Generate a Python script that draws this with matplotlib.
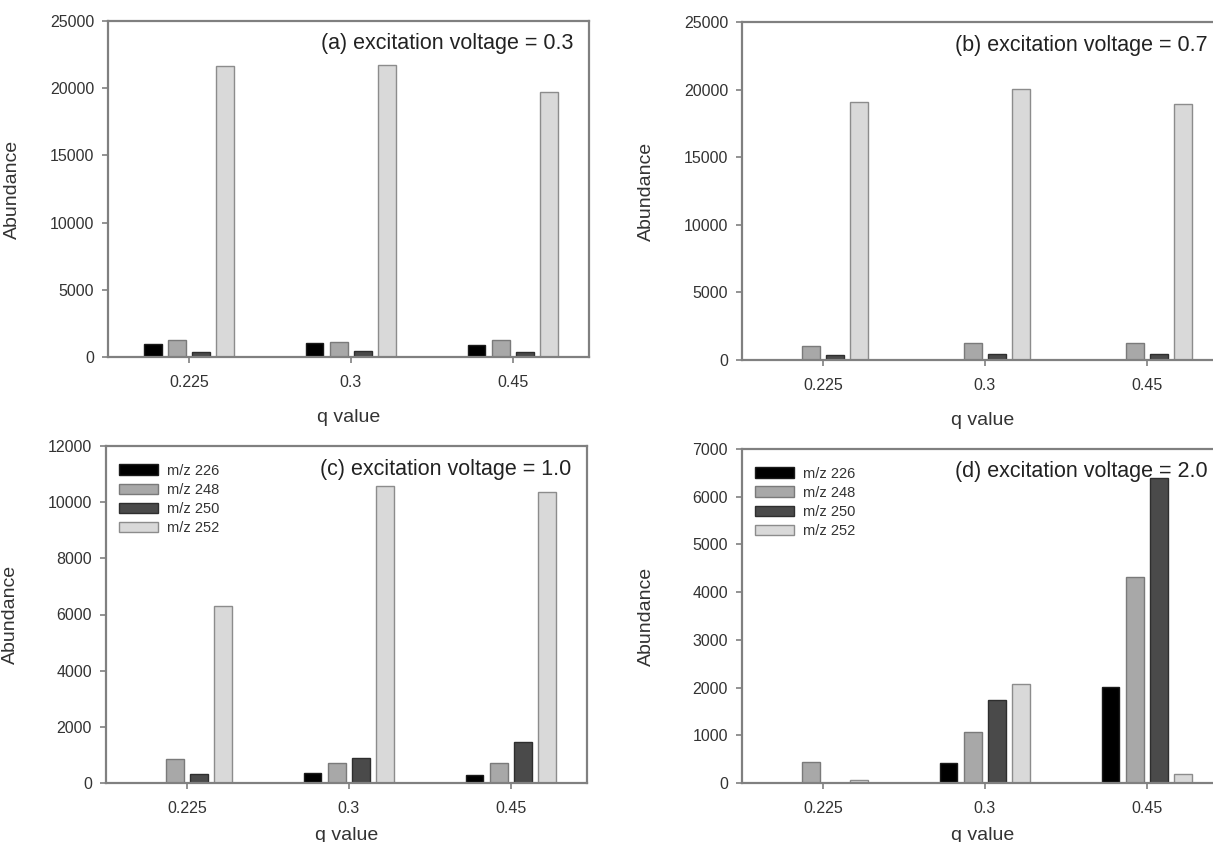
import numpy as np
import matplotlib
matplotlib.use('Agg')
import matplotlib.pyplot as plt

plt.rcParams['font.family'] = ['Liberation Sans', 'DejaVu Sans']

# q values (x categories)
qValores = ['0.225', '0.3', '0.45']
iones = ['m/z 226', 'm/z 248', 'm/z 250', 'm/z 252']

# (a) excitation voltage = 0.3
a226 = [970, 1030, 900]
a248 = [1230, 1150, 1240]
a250 = [380, 440, 380]
a252 = [21650, 21750, 19750]

# (b) excitation voltage = 0.7
b226 = [0, 0, 0]
b248 = [1050, 1240, 1230]
b250 = [400, 450, 420]
b252 = [19050, 20050, 18900]

# (c) excitation voltage = 1.0
c226 = [0, 350, 300]
c248 = [870, 710, 700]
c250 = [330, 900, 1460]
c252 = [6290, 10590, 10350]

# (d) excitation voltage = 2.0
d226 = [0, 420, 2020]
d248 = [450, 1070, 4320]
d250 = [0, 1750, 6400]
d252 = [60, 2080, 190]

titulos = ['(a) excitation voltage = 0.3', '(b) excitation voltage = 0.7',
           '(c) excitation voltage = 1.0', '(d) excitation voltage = 2.0']
ylims = [25000, 25000, 12000, 7000]
ypasos = [5000, 5000, 2000, 1000]

rellenos = ['#000000', '#a8a8a8', '#4a4a4a', '#d9d9d9']
bordes = ['#1a1a1a', '#7a7a7a', '#2e2e2e', '#8c8c8c']

W, H = 1213, 842
fig = plt.figure(figsize=(W / 100, H / 100), dpi=100)

# axes rectangles in pixels: left, top, right, bottom
cajas = [(108, 21, 589, 357), (742, 22, 1223, 360),
         (106, 446, 587, 783), (742, 449, 1223, 783)]
datos = [[a226, a248, a250, a252], [b226, b248, b250, b252],
         [c226, c248, c250, c252], [d226, d248, d250, d252]]

paso = 0.149
ancho = 0.108
x = np.arange(len(qValores))
gris = '#808080'
texto = '#333333'

for i in range(4):
    l, t, r, b = cajas[i]
    ax = fig.add_axes([l / W, 1 - b / H, (r - l) / W, (b - t) / H])
    for k in range(4):
        ax.bar(x + (k - 1.5) * paso, datos[i][k], ancho, color=rellenos[k],
               edgecolor=bordes[k], linewidth=1.0, label=iones[k], zorder=2)
    ax.set_xlim(-0.5, 2.47)
    ax.set_ylim(0, ylims[i])
    ax.set_yticks(np.arange(0, ylims[i] + 1, ypasos[i]))
    ax.set_xticks(x)
    ax.set_xticklabels(qValores)
    for s in ax.spines.values():
        s.set_color(gris)
        s.set_linewidth(1.6)
        s.set_zorder(3)
    ax.tick_params(axis='both', direction='out', length=4, width=1.2,
                   color=gris, labelcolor=texto, labelsize=11.5)
    ax.tick_params(axis='x', pad=9)
    ax.tick_params(axis='y', pad=6)
    ax.set_ylabel('Abundance', fontsize=14, color=texto)
    ax.set_xlabel('q value', fontsize=14, color=texto)
    ax.yaxis.set_label_coords(-87 / (r - l), 0.5)
    # bottom row labels sit right at the lower edge of the figure
    bajo = 52 if i < 2 else 44
    ax.xaxis.set_label_coords(0.5, -bajo / (b - t))
    ax.text(0.968, 1 - 23 / (b - t), titulos[i], transform=ax.transAxes,
            ha='right', va='center', fontsize=15.5, color='#222222')
    if i >= 2:
        ax.legend(loc='upper left', bbox_to_anchor=(0.015, 0.965),
                  borderaxespad=0, frameon=False, fontsize=10.5,
                  handlelength=2.7, handleheight=0.7, labelspacing=0.35,
                  handletextpad=0.6, labelcolor=texto)

plt.savefig('out.png', dpi=100)
